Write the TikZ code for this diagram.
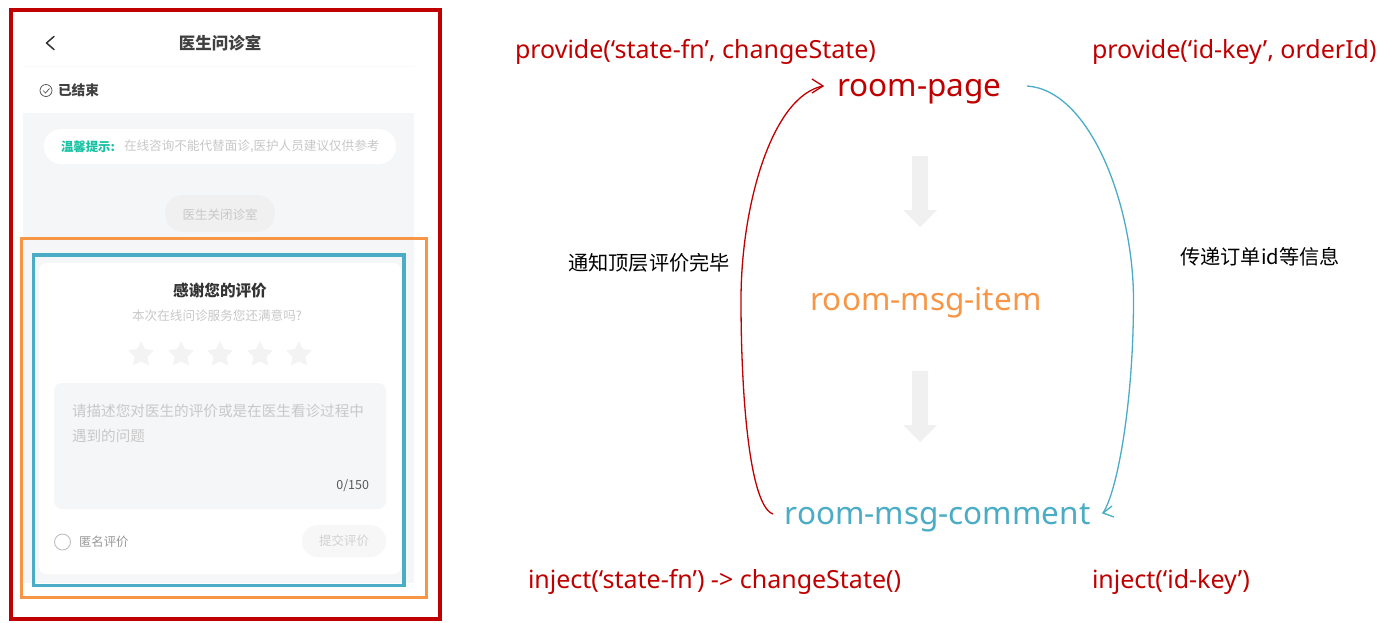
\documentclass[tikz,border=0pt]{standalone}
\usepackage{fontspec}
\setmainfont{Noto Sans}
\newfontfamily\cjk{Noto Sans CJK SC}
\usetikzlibrary{shapes.geometric}
\definecolor{cred}{HTML}{C00000}
\definecolor{corange}{HTML}{F79646}
\definecolor{cblue}{HTML}{4BACC6}
\definecolor{panelgray}{HTML}{F5F6F8}
\definecolor{fillgray}{HTML}{F0F0F0}
\definecolor{hint}{HTML}{C8C8C8}
\definecolor{teal}{HTML}{16C2A3}
\newcommand{\fs}[1]{\fontsize{#1}{#1}\selectfont}
\tikzset{
 x=1pt,y=-1pt,
 txt/.style={inner sep=0pt,outer sep=0pt,align=center},
 zh/.style={txt,font=\cjk\fs{#1}},
 zh/.default=12.5,
 code/.style={txt,text=cred,font=\fs{25}},
 comp/.style={txt,font=\fs{31.5}},
 frame/.style={draw=#1,line width=3.5pt,fill=none},
 flow/.style={line width=1.3pt},
 grayarrow/.style={fill=fillgray,draw=none},
 starshape/.style={star,star points=5,star point ratio=2.0,minimum size=27pt,inner sep=0pt,fill=fillgray!80!white,draw=none},
}
\begin{document}
\begin{tikzpicture}
\useasboundingbox (0,0) rectangle (1387,622);
\fill[white] (0,0) rectangle (1387,622);
% phone screen
\fill[panelgray] (23,113) rectangle (414,583);
\draw[panelgray!70!white,line width=0.8pt] (23,66.5) -- (414,66.5);
\draw[line width=1.5pt,black!80,line cap=round,line join=round] (54,36.5) -- (46.5,43) -- (54,49.5);
\node[zh=16.5,text=black!75,font=\cjk\bfseries\fs{16.5}] (title) at (220,43) {医生问诊室};
\node[circle,draw=black!70,line width=0.7pt,minimum size=12pt,inner sep=0pt] (done) at (46,90.5) {};
\draw[black!70,line width=0.7pt] (43,90.5) -- (45.5,93) -- (49.5,88.5);
\node[zh=13.7,anchor=west,text=black!75,font=\cjk\bfseries\fs{13.7}] (ended) at (58,90) {已结束};
\fill[white,rounded corners=17pt] (44,129) rectangle (396,164);
\node[zh=12.4,anchor=west,text=teal,font=\cjk\bfseries\fs{12.4}] (tip1) at (61,146.5) {温馨提示:};
\node[zh=12.6,anchor=west,text=hint] (tip2) at (124,146.5) {在线咨询不能代替面诊,医护人员建议仅供参考};
\fill[black!6,rounded corners=18pt] (165,195) rectangle (275,232);
\node[zh,text=hint] (closed) at (220,214.5) {医生关闭诊室};
\fill[white,rounded corners=8pt] (39,263) rectangle (401,574);
\node[zh=15.6,text=black!80,font=\cjk\bfseries\fs{15.6}] (thanks) at (220,290.5) {感谢您的评价};
\node[zh=12.6,text=hint] (q) at (217,316) {本次在线问诊服务您还满意吗?};
\foreach \n/\x in {a/141,b/181,c/220,d/260,e/299}
  \node[starshape] (s\n) at (\x,354.5) {};
\fill[panelgray,rounded corners=8pt] (54,383) rectangle (386,509);
\node[zh=14.6,anchor=west,text=hint] (p1) at (72,410.5) {请描述您对医生的评价或是在医生看诊过程中};
\node[zh=14.6,anchor=west,text=hint] (p2) at (72,435.5) {遇到的问题};
\node[zh=12.5,anchor=east,text=black!65] (count) at (369,485.5) {0/150};
\node[circle,draw=black!25,line width=0.9pt,minimum size=16pt,inner sep=0pt] (radio) at (62.5,542) {};
\node[zh=12.4,anchor=west,text=black!40] (anon) at (79,542) {匿名评价};
\fill[black!3,rounded corners=16pt] (302,525) rectangle (386,557);
\node[zh,text=black!18] (submit) at (344,541) {提交评价};
% frames
\draw[frame=cred] (11,10) rectangle (440,619);
\draw[frame=corange,line width=3pt] (21.5,238.5) rectangle (426.5,597.5);
\draw[frame=cblue] (33.5,255) rectangle (404,585.5);
% right side labels
\node[code,anchor=base west] (prov1) at (515,58) {provide(‘state-fn’, changeState)};
\node[code,anchor=base west] (prov2) at (1092,58) {provide(‘id-key’, orderId)};
\node[code,anchor=base west] (inj1) at (528,588) {inject(‘state-fn’) -> changeState()};
\node[code,anchor=base west] (inj2) at (1092,588) {inject(‘id-key’)};
\node[comp,text=cred,anchor=base] (page) at (919.5,96) {room-page};
\node[comp,text=corange,anchor=base] (item) at (926,310) {room-msg-item};
\node[comp,text=cblue,anchor=base] (comment) at (937.5,524) {room-msg-comment};
\node[zh=20.2,text=black] (notify) at (649,263) {通知顶层评价完毕};
\node[zh=20.2,text=black] (pass) at (1260,257) {传递订单id等信息};
% gray arrows
\fill[grayarrow] (912,156) -- (928,156) -- (928,210) -- (937,210) -- (920,227) -- (903,210) -- (912,210) -- cycle;
\fill[grayarrow] (912,371) -- (928,371) -- (928,425) -- (937,425) -- (920,442) -- (903,425) -- (912,425) -- cycle;
% connectors
\coordinate (rs) at (773,514);
\coordinate (rm) at (741,300);
\coordinate (re) at (823,86);
\coordinate (bs) at (1027,86);
\coordinate (bm) at (1133.5,300);
\coordinate (be) at (1103,513);
\draw[flow,draw=cred] (rs) .. controls (750,506) and (741,400) .. (rm) .. controls (741,205) and (772,96) .. (re);
\draw[flow,draw=cred,line join=miter] (812,79) -- (re) -- (812,93);
\draw[flow,draw=cblue] (bs) .. controls (1090,90) and (1133.5,205) .. (bm) .. controls (1133.5,400) and (1118,490) .. (be);
\draw[flow,draw=cblue,line join=miter] (1112,506) -- (be) -- (1114,517);
\end{tikzpicture}
\end{document}
